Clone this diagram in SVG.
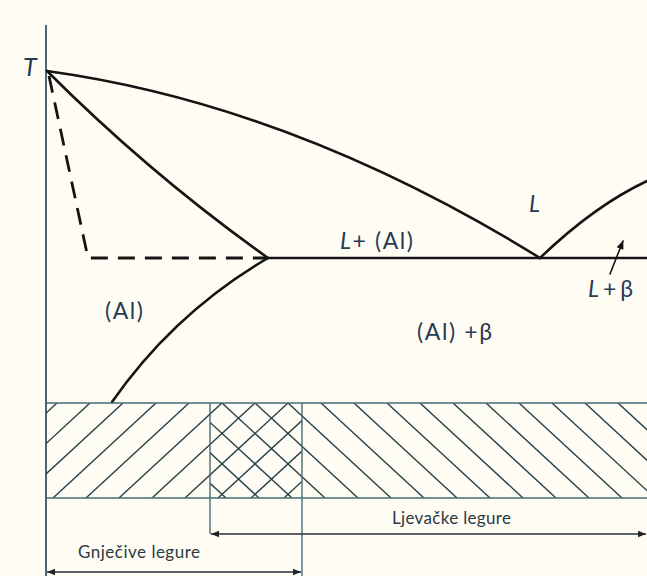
<svg xmlns="http://www.w3.org/2000/svg" width="647" height="576" viewBox="0 0 647 576">
<style>
.curve{fill:none;stroke:#141414;stroke-width:2.6;stroke-linecap:round}
.dash{fill:none;stroke:#141414;stroke-width:2.8;stroke-dasharray:17 10}
.thin{fill:none;stroke:#456a76;stroke-width:1.4}
.hatch{fill:none;stroke:#27404a;stroke-width:1.4}
.dim{fill:none;stroke:#2a3238;stroke-width:1.6}
.lbl{font-family:Lato,"Open Sans",sans-serif;fill:#283a52;font-size:23px}
.it{font-style:italic}
.small{font-family:Lato,"Open Sans",sans-serif;fill:#2a3a45;font-size:17px}
</style>
<defs>
<marker id="ah" viewBox="0 0 10 10" refX="10" refY="5" markerWidth="8" markerHeight="8" markerUnits="userSpaceOnUse" orient="auto-start-reverse">
<path d="M0,1 L10,5 L0,9 Z" fill="#1e2428"/>
</marker>
<marker id="ahs" viewBox="0 0 10 10" refX="9" refY="5" markerWidth="9" markerHeight="9" markerUnits="userSpaceOnUse" orient="auto">
<path d="M0,1 L10,5 L0,9 Z" fill="#141414"/>
</marker>
<clipPath id="cl"><rect x="46" y="403" width="256" height="95"/></clipPath>
<clipPath id="cr"><rect x="210" y="403" width="437" height="95"/></clipPath>
</defs>
<rect x="0" y="0" width="647" height="576" fill="#fffdf3"/>

<g id="axis">
<line class="thin" x1="46" y1="25" x2="46" y2="576" style="stroke-width:2"/>
<text id="T" class="lbl it" x="23" y="76" style="font-size:25px">T</text>
</g>

<g id="connectors">
<path id="liquidus-left" class="curve" d="M47,71 Q293,105 540,258"/>
<path id="liquidus-right" class="curve" d="M540,258 Q594,206 647,181"/>
<path id="solidus" class="curve" d="M47,71 Q150,174 268,258"/>
<path id="solvus" class="curve" d="M268,258 Q174,313 112,402"/>
<path id="eutectic" class="curve" d="M268,258 L647,258"/>
<path id="dashed" class="dash" d="M49,76 L88,258 L268,258"/>
<line id="lb-arrow" class="curve" x1="610" y1="274" x2="623" y2="241" style="stroke-width:1.6" marker-end="url(#ahs)"/>
</g>

<g id="band">
<g clip-path="url(#cl)" class="hatch">
<line x1="24" y1="403" x2="-79" y2="498"/>
<line x1="57" y1="403" x2="-46" y2="498"/>
<line x1="90" y1="403" x2="-13" y2="498"/>
<line x1="123" y1="403" x2="20" y2="498"/>
<line x1="156" y1="403" x2="53" y2="498"/>
<line x1="189" y1="403" x2="86" y2="498"/>
<line x1="222" y1="403" x2="119" y2="498"/>
<line x1="255" y1="403" x2="152" y2="498"/>
<line x1="288" y1="403" x2="185" y2="498"/>
<line x1="321" y1="403" x2="218" y2="498"/>
<line x1="354" y1="403" x2="251" y2="498"/>
<line x1="387" y1="403" x2="284" y2="498"/>
<line x1="420" y1="403" x2="317" y2="498"/>
</g>
<g clip-path="url(#cr)" class="hatch">
<line x1="90" y1="403" x2="193" y2="498"/>
<line x1="123" y1="403" x2="226" y2="498"/>
<line x1="156" y1="403" x2="259" y2="498"/>
<line x1="189" y1="403" x2="292" y2="498"/>
<line x1="222" y1="403" x2="325" y2="498"/>
<line x1="255" y1="403" x2="358" y2="498"/>
<line x1="288" y1="403" x2="391" y2="498"/>
<line x1="321" y1="403" x2="424" y2="498"/>
<line x1="354" y1="403" x2="457" y2="498"/>
<line x1="387" y1="403" x2="490" y2="498"/>
<line x1="420" y1="403" x2="523" y2="498"/>
<line x1="453" y1="403" x2="556" y2="498"/>
<line x1="486" y1="403" x2="589" y2="498"/>
<line x1="519" y1="403" x2="622" y2="498"/>
<line x1="552" y1="403" x2="655" y2="498"/>
<line x1="585" y1="403" x2="688" y2="498"/>
<line x1="618" y1="403" x2="721" y2="498"/>
<line x1="651" y1="403" x2="754" y2="498"/>
</g>
<line class="thin" x1="46" y1="403" x2="647" y2="403"/>
<line class="thin" x1="46" y1="498" x2="647" y2="498"/>
<line class="thin" x1="210" y1="403" x2="210" y2="534"/>
<line class="thin" x1="302" y1="403" x2="302" y2="576"/>
</g>

<g id="dimensions">
<line class="dim" x1="211" y1="534" x2="646" y2="534" marker-start="url(#ah)" marker-end="url(#ah)"/>
<line class="dim" x1="47" y1="572" x2="301" y2="572" marker-start="url(#ah)" marker-end="url(#ah)"/>
</g>

<g id="labels">
<text id="lbl-al" class="lbl" x="105" y="319" textLength="38" lengthAdjust="spacing">(Al)</text>
<text id="lbl-l-al" class="lbl" x="340" y="249" textLength="73" lengthAdjust="spacing"><tspan class="it">L</tspan>+ (Al)</text>
<text id="lbl-l" class="lbl it" x="529" y="212">L</text>
<text id="lbl-lb" class="lbl" x="588" y="297" textLength="45" lengthAdjust="spacing"><tspan class="it">L</tspan>+β</text>
<text id="lbl-alb" class="lbl" x="417" y="340" textLength="75" lengthAdjust="spacing">(Al) +β</text>
<text id="lbl-ljev" class="small" x="392" y="524" textLength="119" lengthAdjust="spacing">Ljevačke legure</text>
<text id="lbl-gnj" class="small" x="78" y="558" textLength="122" lengthAdjust="spacing">Gnječive legure</text>
</g>
</svg>
